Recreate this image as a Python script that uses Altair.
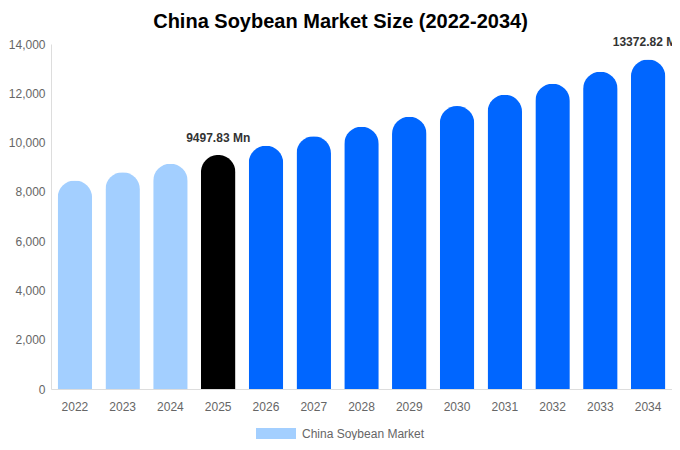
import altair as alt
import pandas as pd

# China soybean market size, USD Mn
years = ["2022", "2023", "2024", "2025", "2026", "2027", "2028",
         "2029", "2030", "2031", "2032", "2033", "2034"]
values = [8456, 8796, 9145, 9497.83, 9866, 10255, 10645,
          11050, 11484, 11942, 12388, 12874, 13372.82]
colors = ["#a3cfff"] * 3 + ["#000000"] + ["#0066ff"] * 9
labels = ["", "", "", "9497.83 Mn", "", "", "", "", "", "", "", "", "13372.82 Mn"]
y_ticks = [0, 2000, 4000, 6000, 8000, 10000, 12000, 14000]

data = pd.DataFrame({"year": years, "value": values, "label": labels})

font = "Liberation Sans"

x = alt.X("year:N", sort=years,
          scale=alt.Scale(paddingInner=0, paddingOuter=0),
          axis=alt.Axis(title=None, labelAngle=0, ticks=False, grid=False,
                        domainColor="#dddddd", labelColor="#666666",
                        labelFont=font, labelFontSize=12, labelPadding=12))
y = alt.Y("value:Q", scale=alt.Scale(domain=[0, 14000], nice=False),
          axis=alt.Axis(title=None, values=y_ticks, format=",d", ticks=False, grid=False,
                        domainColor="#dddddd", labelColor="#666666",
                        labelFont=font, labelFontSize=12, labelPadding=6))

# legend swatch: a 40x11 rectangle
rect_path = "M-1,-0.275L1,-0.275L1,0.275L-1,0.275Z"

bars = alt.Chart(data).mark_bar(
    size=34.5, cornerRadiusTopLeft=17.25, cornerRadiusTopRight=17.25
).encode(
    x=x,
    y=y,
    color=alt.Color("year:N", scale=alt.Scale(domain=years, range=colors),
                    legend=alt.Legend(orient="none", legendX=205, legendY=369.5,
                                      direction="horizontal", title=None,
                                      values=["2022"],
                                      labelExpr="'China Soybean Market'",
                                      symbolType=rect_path, symbolSize=1600,
                                      symbolStrokeWidth=0, labelFont=font,
                                      labelFontSize=12, labelColor="#666666",
                                      labelOffset=6, padding=0)),
)

text = alt.Chart(data).transform_filter("datum.label != ''").mark_text(
    font=font, fontSize=12, fontWeight="bold", color="#333333",
    baseline="bottom", dy=-10
).encode(x=x, y=y, text="label:N")

chart = alt.layer(bars, text).properties(
    width=621,
    height=345,
    autosize=alt.AutoSizeParams(type="none"),
    padding={"left": 43, "top": 36, "right": 0, "bottom": 51},
    title=alt.TitleParams("China Soybean Market Size (2022-2034)", font=font,
                          fontSize=20, fontWeight="bold", color="#000000",
                          anchor="middle", dx=-21, offset=4),
).configure_view(stroke=None)

chart.save("out.html", embed_options={"renderer": "svg", "actions": False})
